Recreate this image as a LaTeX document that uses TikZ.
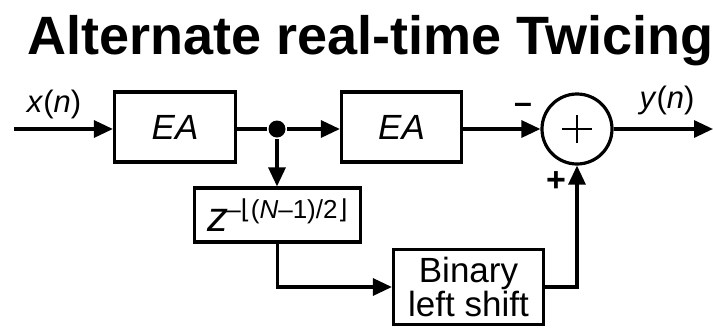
\documentclass[tikz,border=0pt]{standalone}
\usepackage{fontspec}
\setmainfont{Liberation Sans}
\newfontfamily\symfont{DejaVu Sans}
\usetikzlibrary{arrows.meta}

\begin{document}
\begin{tikzpicture}[x=1pt, y=-1pt,
                      >={Triangle[length=19pt,width=17pt]}, line width=3.2pt,
                      block/.style={draw, inner sep=0pt},
                      bigtext/.style={font=\fontsize{35}{40}\selectfont},
                      sigtext/.style={font=\fontsize{31}{36}\selectfont, anchor=base}
                     ]

    \useasboundingbox (0,0) rectangle (713,330);

    \node [anchor=base west, inner sep=0pt, font=\bfseries\fontsize{54}{60}\selectfont] (title)
        at (26,54) {Alternate real-time Twicing};

    \coordinate (xin) at (14,129);
    \coordinate (yout) at (713,129);

    \node [block, bigtext, minimum width=121pt, minimum height=70pt] (ea1)
        at (175,127) {\itshape EA};
    \node [circle, fill, inner sep=0pt, minimum size=17pt] (split) at (277,129) {};
    \node [block, bigtext, minimum width=120pt, minimum height=70pt] (ea2)
        at (401.5,127) {\itshape EA};
    \node [circle, draw, inner sep=0pt, minimum size=70pt,
           path picture={
             \draw [line width=2.4pt] ([xshift=-15pt]path picture bounding box.center)
                 -- ([xshift=15pt]path picture bounding box.center);
             \draw [line width=2.4pt] ([yshift=-14pt]path picture bounding box.center)
                 -- ([yshift=14pt]path picture bounding box.center);
           }] (sum) at (577,129) {};

    \node [block, minimum width=166pt, minimum height=54pt] (delay) at (277.5,215)
        {\fontsize{42}{44}\selectfont\itshape z\upshape\raisebox{13pt}{\fontsize{26}{28}\selectfont
         \kern-2pt–{\symfont ⌊}(\textit{N}–1)/2{\symfont ⌋}}};
    \node [block, minimum width=150pt, minimum height=75pt, align=center,
           font=\fontsize{35}{34}\selectfont] (shift) at (468.5,287) {Binary\\left shift};

    % labels
    \node [sigtext] (xlab) at (54,112) {\textit{x}(\textit{n})};
    \node [sigtext] (ylab) at (667,108) {\textit{y}(\textit{n})};
    \node [font=\bfseries\fontsize{32}{34}\selectfont] (minus) at (523,108) {–};
    \node [font=\bfseries\fontsize{34}{36}\selectfont] (plus) at (556,182) {+};

    % connections
    \draw [->] (xin) -- (ea1.west |- xin);
    \draw (ea1.east |- split) -- (split);
    \draw [->] (split) -- (ea2.west |- split);
    \draw [->] (split) -- (split |- delay.north);
    \draw [->] (ea2.east |- split) -- (sum);
    \draw [->] (sum) -- (yout);
    \draw [->] (delay.south) |- (shift);
    \draw [->] (shift) -| (sum);

\end{tikzpicture}
\end{document}
